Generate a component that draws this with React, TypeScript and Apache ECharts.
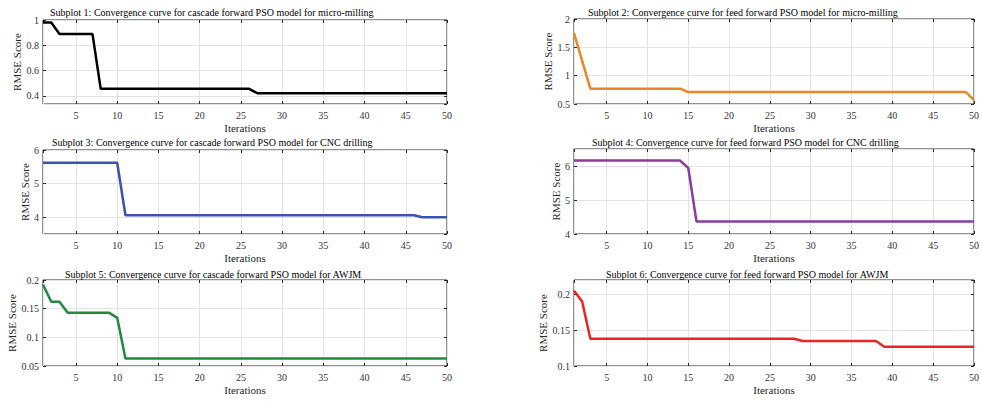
import React, { useEffect, useRef } from "react";
import * as echarts from "echarts";

// ---------- data ----------
const iterations: number[] = Array.from({ length: 50 }, (_, i) => i + 1);

const rmseCascadeMicro = [
  0.98, 0.98, 0.89, 0.89, 0.89, 0.89, 0.89, 0.455, 0.455, 0.455,
  0.455, 0.455, 0.455, 0.455, 0.455, 0.455, 0.455, 0.455, 0.455, 0.455,
  0.455, 0.455, 0.455, 0.455, 0.455, 0.455, 0.42, 0.42, 0.42, 0.42,
  0.42, 0.42, 0.42, 0.42, 0.42, 0.42, 0.42, 0.42, 0.42, 0.42,
  0.42, 0.42, 0.42, 0.42, 0.42, 0.42, 0.42, 0.42, 0.42, 0.42,
];
const rmseFeedMicro = [
  1.75, 1.26, 0.77, 0.77, 0.77, 0.77, 0.77, 0.77, 0.77, 0.77,
  0.77, 0.77, 0.77, 0.77, 0.71, 0.71, 0.71, 0.71, 0.71, 0.71,
  0.71, 0.71, 0.71, 0.71, 0.71, 0.71, 0.71, 0.71, 0.71, 0.71,
  0.71, 0.71, 0.71, 0.71, 0.71, 0.71, 0.71, 0.71, 0.71, 0.71,
  0.71, 0.71, 0.71, 0.71, 0.71, 0.71, 0.71, 0.71, 0.71, 0.57,
];
const rmseCascadeCnc = [
  5.62, 5.62, 5.62, 5.62, 5.62, 5.62, 5.62, 5.62, 5.62, 5.62,
  4.06, 4.06, 4.06, 4.06, 4.06, 4.06, 4.06, 4.06, 4.06, 4.06,
  4.06, 4.06, 4.06, 4.06, 4.06, 4.06, 4.06, 4.06, 4.06, 4.06,
  4.06, 4.06, 4.06, 4.06, 4.06, 4.06, 4.06, 4.06, 4.06, 4.06,
  4.06, 4.06, 4.06, 4.06, 4.06, 4.06, 4.0, 4.0, 4.0, 4.0,
];
const rmseFeedCnc = [
  6.16, 6.16, 6.16, 6.16, 6.16, 6.16, 6.16, 6.16, 6.16, 6.16,
  6.16, 6.16, 6.16, 6.16, 5.94, 4.37, 4.37, 4.37, 4.37, 4.37,
  4.37, 4.37, 4.37, 4.37, 4.37, 4.37, 4.37, 4.37, 4.37, 4.37,
  4.37, 4.37, 4.37, 4.37, 4.37, 4.37, 4.37, 4.37, 4.37, 4.37,
  4.37, 4.37, 4.37, 4.37, 4.37, 4.37, 4.37, 4.37, 4.37, 4.37,
];
const rmseCascadeAwjm = [
  0.192, 0.162, 0.162, 0.143, 0.143, 0.143, 0.143, 0.143, 0.143, 0.134,
  0.063, 0.063, 0.063, 0.063, 0.063, 0.063, 0.063, 0.063, 0.063, 0.063,
  0.063, 0.063, 0.063, 0.063, 0.063, 0.063, 0.063, 0.063, 0.063, 0.063,
  0.063, 0.063, 0.063, 0.063, 0.063, 0.063, 0.063, 0.063, 0.063, 0.063,
  0.063, 0.063, 0.063, 0.063, 0.063, 0.063, 0.063, 0.063, 0.063, 0.063,
];
const rmseFeedAwjm = [
  0.205, 0.19, 0.138, 0.138, 0.138, 0.138, 0.138, 0.138, 0.138, 0.138,
  0.138, 0.138, 0.138, 0.138, 0.138, 0.138, 0.138, 0.138, 0.138, 0.138,
  0.138, 0.138, 0.138, 0.138, 0.138, 0.138, 0.138, 0.138, 0.135, 0.135,
  0.135, 0.135, 0.135, 0.135, 0.135, 0.135, 0.135, 0.135, 0.127, 0.127,
  0.127, 0.127, 0.127, 0.127, 0.127, 0.127, 0.127, 0.127, 0.127, 0.127,
];

const titles = [
  "Subplot 1: Convergence curve for cascade forward PSO model for micro-milling",
  "Subplot 2: Convergence curve for feed forward PSO model for micro-milling",
  "Subplot 3: Convergence curve for cascade forward PSO model for CNC drilling",
  "Subplot 4: Convergence curve for feed forward PSO model for CNC drilling",
  "Subplot 5: Convergence curve for cascade forward PSO model for AWJM",
  "Subplot 6: Convergence curve for feed forward PSO model for AWJM",
];
const xAxisTitle = "Iterations";
const yAxisTitle = "RMSE Score";
const seriesValues = [
  rmseCascadeMicro,
  rmseFeedMicro,
  rmseCascadeCnc,
  rmseFeedCnc,
  rmseCascadeAwjm,
  rmseFeedAwjm,
];

// ---------- layout / style ----------
const FONT = "'Liberation Serif', 'Times New Roman', serif";
const colors = ["#000000", "#E8862A", "#3B52AE", "#8B3A9E", "#1E8A42", "#EE2424"];
const grids = [
  { left: 43, top: 20, width: 404, height: 84 },
  { left: 574, top: 19, width: 403, height: 85 },
  { left: 43, top: 150, width: 404, height: 84 },
  { left: 574, top: 149, width: 403, height: 85 },
  { left: 43, top: 280, width: 404, height: 86 },
  { left: 574, top: 280, width: 403, height: 86 },
];
const yCfg: any[] = [
  { min: 0.335, max: 1, splitNumber: 3, hideMin: true },
  { min: 0.5, max: 2, interval: 0.5 },
  { min: 3.5, max: 6, splitNumber: 3, hideMin: true },
  { min: 4, max: 6.5, interval: 1, hideMax: true },
  { min: 0.05, max: 0.2, interval: 0.05 },
  { min: 0.1, max: 0.22, interval: 0.05, hideMax: true },
];
const yNameGaps = [14, 15, 8, 8, 19, 20];
const titlePos = [
  { left: 50, top: 7 },
  { left: 588, top: 7 },
  { left: 52, top: 137 },
  { left: 592, top: 137 },
  { left: 65, top: 269 },
  { left: 606, top: 269 },
];

const AXIS_COLOR = "#262626";
const GRID_COLOR = "#E3E3E3";

function buildOption() {
  const grid: any[] = [];
  const xAxis: any[] = [];
  const yAxis: any[] = [];
  const series: any[] = [];
  const title: any[] = [];

  seriesValues.forEach((vals, i) => {
    grid.push({
      ...grids[i],
      show: true,
      borderColor: AXIS_COLOR,
      borderWidth: 1,
      backgroundColor: "#fff",
      containLabel: false,
    });
    title.push({
      text: titles[i],
      left: titlePos[i].left,
      top: titlePos[i].top,
      padding: 0,
      textStyle: { fontFamily: FONT, fontSize: 10, fontWeight: "normal", color: "#000" },
    });
    xAxis.push({
      type: "value",
      gridIndex: i,
      min: 1,
      max: 50,
      splitNumber: 10,
      name: xAxisTitle,
      nameLocation: "middle",
      nameGap: 18,
      nameTextStyle: { fontFamily: FONT, fontSize: 11, color: "#262626" },
      axisLine: { show: false },
      axisTick: { show: true, inside: true, length: 3, lineStyle: { color: AXIS_COLOR } },
      axisLabel: {
        showMinLabel: false,
        margin: 6,
        fontFamily: FONT,
        fontSize: 10,
        color: "#333",
      },
      splitLine: { show: true, lineStyle: { color: GRID_COLOR, width: 1 } },
    });
    xAxis.push({
      type: "value",
      gridIndex: i,
      position: "top",
      min: 1,
      max: 50,
      splitNumber: 10,
      axisLine: { show: false },
      axisTick: { show: true, inside: true, length: 3, lineStyle: { color: AXIS_COLOR } },
      axisLabel: { show: false },
      splitLine: { show: false },
    });
    const c = yCfg[i];
    const yBase: any = { type: "value", gridIndex: i, min: c.min, max: c.max };
    if (c.interval) yBase.interval = c.interval;
    if (c.splitNumber) yBase.splitNumber = c.splitNumber;
    yAxis.push({
      ...yBase,
      name: yAxisTitle,
      nameLocation: "middle",
      nameGap: yNameGaps[i],
      nameTextStyle: { fontFamily: FONT, fontSize: 11, color: "#262626" },
      axisLine: { show: false },
      axisTick: { show: true, inside: true, length: 3, lineStyle: { color: AXIS_COLOR } },
      axisLabel: {
        showMinLabel: !c.hideMin,
        showMaxLabel: !c.hideMax,
        margin: 4,
        fontFamily: FONT,
        fontSize: 10,
        color: "#333",
      },
      splitLine: { show: true, lineStyle: { color: GRID_COLOR, width: 1 } },
    });
    yAxis.push({
      ...yBase,
      position: "right",
      axisLine: { show: false },
      axisTick: { show: true, inside: true, length: 3, lineStyle: { color: AXIS_COLOR } },
      axisLabel: { show: false },
      splitLine: { show: false },
    });
    series.push({
      type: "line",
      xAxisIndex: i * 2,
      yAxisIndex: i * 2,
      data: vals.map((v, k) => [iterations[k], v]),
      showSymbol: false,
      symbol: "none",
      lineStyle: { color: colors[i], width: 2.5 },
      itemStyle: { color: colors[i] },
      z: 3,
    });
  });

  return {
    animation: false,
    backgroundColor: "#fff",
    textStyle: { fontFamily: FONT },
    title,
    grid,
    xAxis,
    yAxis,
    series,
  };
}

export default function App() {
  const ref = useRef<HTMLDivElement>(null);
  useEffect(() => {
    if (!ref.current) return;
    const chart = echarts.init(ref.current, null, { renderer: "svg" });
    chart.setOption(buildOption() as any);
    return () => chart.dispose();
  }, []);
  return (
    <div
      ref={ref}
      style={{ position: "fixed", left: 0, top: 0, width: 982, height: 401, background: "#fff" }}
    />
  );
}
